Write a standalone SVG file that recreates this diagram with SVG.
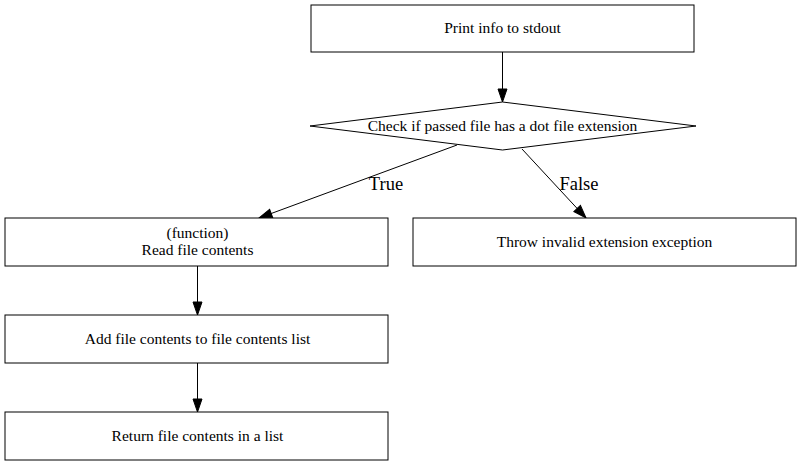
<svg xmlns="http://www.w3.org/2000/svg" width="803" height="467" viewBox="0 0 803 467">
<style>
text{font-family:'Liberation Serif','Times New Roman',Times,serif;text-anchor:middle;fill:#000}
.n{fill:#fff;stroke:#000;stroke-width:1}
.t{font-size:15.5px}
.l{font-size:18.5px}
.e{stroke:#000;stroke-width:1;fill:none;marker-end:url(#ah)}
</style>
<defs>
<marker id="ah" markerUnits="userSpaceOnUse" markerWidth="16" markerHeight="12" refX="14" refY="6" orient="auto">
<path d="M1,1.5 L14,6 L1,10.5 z" fill="#000" stroke="#000" stroke-linejoin="miter"/>
</marker>
</defs>
<rect width="803" height="467" fill="#fff"/>
<g id="edges">
<line class="e" x1="502.5" y1="52" x2="502.5" y2="102"/>
<line class="e" x1="457" y1="145" x2="259" y2="218"/>
<line class="e" x1="522" y1="149" x2="586" y2="218"/>
<line class="e" x1="197.5" y1="266" x2="197.5" y2="315"/>
<line class="e" x1="197.5" y1="363" x2="197.5" y2="412"/>
<text class="l" x="386" y="190">True</text>
<text class="l" x="579" y="190">False</text>
</g>
<g id="print"><rect class="n" x="311" y="5" width="383" height="47"/><text class="t" x="502.5" y="33">Print info to stdout</text></g>
<g id="check"><polygon class="n" points="502.5,102 696,126 502.5,150 310,126"/><text class="t" x="502.5" y="131">Check if passed file has a dot file extension</text></g>
<g id="read"><rect class="n" x="5" y="218" width="383" height="48"/><text class="t" x="197.5" y="238">(function)</text><text class="t" x="197.5" y="255">Read file contents</text></g>
<g id="throw"><rect class="n" x="413" y="218" width="383" height="48"/><text class="t" x="604.5" y="247">Throw invalid extension exception</text></g>
<g id="add"><rect class="n" x="5" y="315" width="383" height="48"/><text class="t" x="197.5" y="344">Add file contents to file contents list</text></g>
<g id="ret"><rect class="n" x="5" y="412" width="383" height="48"/><text class="t" x="197.5" y="441">Return file contents in a list</text></g>
</svg>
